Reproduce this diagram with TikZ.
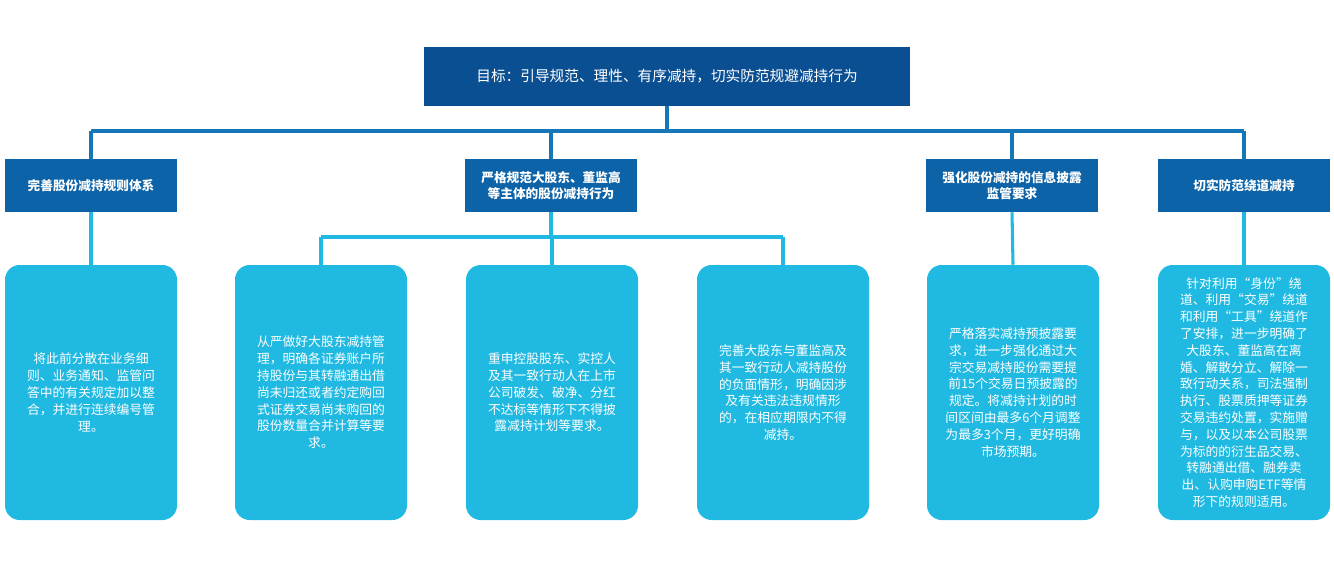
\documentclass[tikz,border=0pt]{standalone}
\usepackage{fontspec}
\setmainfont{Noto Sans CJK SC}
\newfontfamily\cjkb[BoldFont={Noto Sans CJK SC Bold}]{Noto Sans CJK SC}
\begin{document}
\begin{tikzpicture}[x=0.75pt,y=-0.75pt,
  top/.style={fill=topblue,draw=none,minimum width=486*0.75pt,minimum height=59*0.75pt,text=white,font=\fontsize{11}{13}\selectfont},
  mid/.style={fill=midblue,draw=none,minimum width=172*0.75pt,minimum height=53*0.75pt,text=white,align=center,font=\fontsize{9.5}{12}\selectfont\bfseries},
  leaf/.style={fill=leafblue,draw=none,rounded corners=11pt,minimum width=172*0.75pt,minimum height=255*0.75pt,text=white,align=center,font=\fontsize{9.6}{12.6}\selectfont},
  dline/.style={draw=lineblue,line width=2.5pt},
  lline/.style={draw=leafblue,line width=2.3pt}]
\definecolor{topblue}{HTML}{0B4F93}
\definecolor{midblue}{HTML}{0D63A8}
\definecolor{lineblue}{HTML}{1577B8}
\definecolor{leafblue}{HTML}{1FB9E1}
\useasboundingbox (0,0) rectangle (1334,567);
\node[top] (t) at (667,76.5) {目标：引导规范、理性、有序减持，切实防范规避减持行为};
\node[mid] (m1) at (91,185.5) {完善股份减持规则体系};
\node[mid] (m2) at (551,185.5) {严格规范大股东、董监高\\等主体的股份减持行为};
\node[mid] (m3) at (1012,185.5) {强化股份减持的信息披露\\监管要求};
\node[mid] (m4) at (1244,185.5) {切实防范绕道减持};
\node[leaf] (l1) at (91,392.5) {将此前分散在业务细\\则、业务通知、监管问\\答中的有关规定加以整\\合，并进行连续编号管\\理。};
\node[leaf] (l2) at (321,392.5) {从严做好大股东减持管\\理，明确各证券账户所\\持股份与其转融通出借\\尚未归还或者约定购回\\式证券交易尚未购回的\\股份数量合并计算等要\\求。};
\node[leaf] (l3) at (552,392.5) {重申控股股东、实控人\\及其一致行动人在上市\\公司破发、破净、分红\\不达标等情形下不得披\\露减持计划等要求。};
\node[leaf] (l4) at (783,392.5) {完善大股东与董监高及\\其一致行动人减持股份\\的负面情形，明确因涉\\及有关违法违规情形\\的，在相应期限内不得\\减持。};
\node[leaf] (l5) at (1013,392.5) {严格落实减持预披露要\\求，进一步强化通过大\\宗交易减持股份需要提\\前15个交易日预披露的\\规定。将减持计划的时\\间区间由最多6个月调整\\为最多3个月，更好明确\\市场预期。};
\node[leaf] (l6) at (1244,392.5) {针对利用“身份”绕\\道、利用“交易”绕道\\和利用“工具”绕道作\\了安排，进一步明确了\\大股东、董监高在离\\婚、解散分立、解除一\\致行动关系，司法强制\\执行、股票质押等证券\\交易违约处置，实施赠\\与，以及以本公司股票\\为标的的衍生品交易、\\转融通出借、融券卖\\出、认购申购ETF等情\\形下的规则适用。};
\coordinate (hL) at (91,131); \coordinate (hR) at (1244,131);
\draw[dline] (hL) -- (hR);
\draw[dline] (t.south) -- (t.south |- hL);
\foreach \m in {m1,m2,m3,m4} \draw[dline] (\m.north) -- (\m.north |- hL);
\coordinate (bL) at (321,237); \coordinate (bR) at (783,237);
\draw[lline] (m2.south) -- (m2.south |- bL);
\draw[lline] (bL) -- (bR);
\foreach \l in {l2,l3,l4} \draw[lline] (\l.north) -- (\l.north |- bL);
\draw[lline] (m1.south) -- (l1.north);
\draw[lline] (m3.south) -- (l5.north);
\draw[lline] (m4.south) -- (l6.north);
\end{tikzpicture}
\end{document}
